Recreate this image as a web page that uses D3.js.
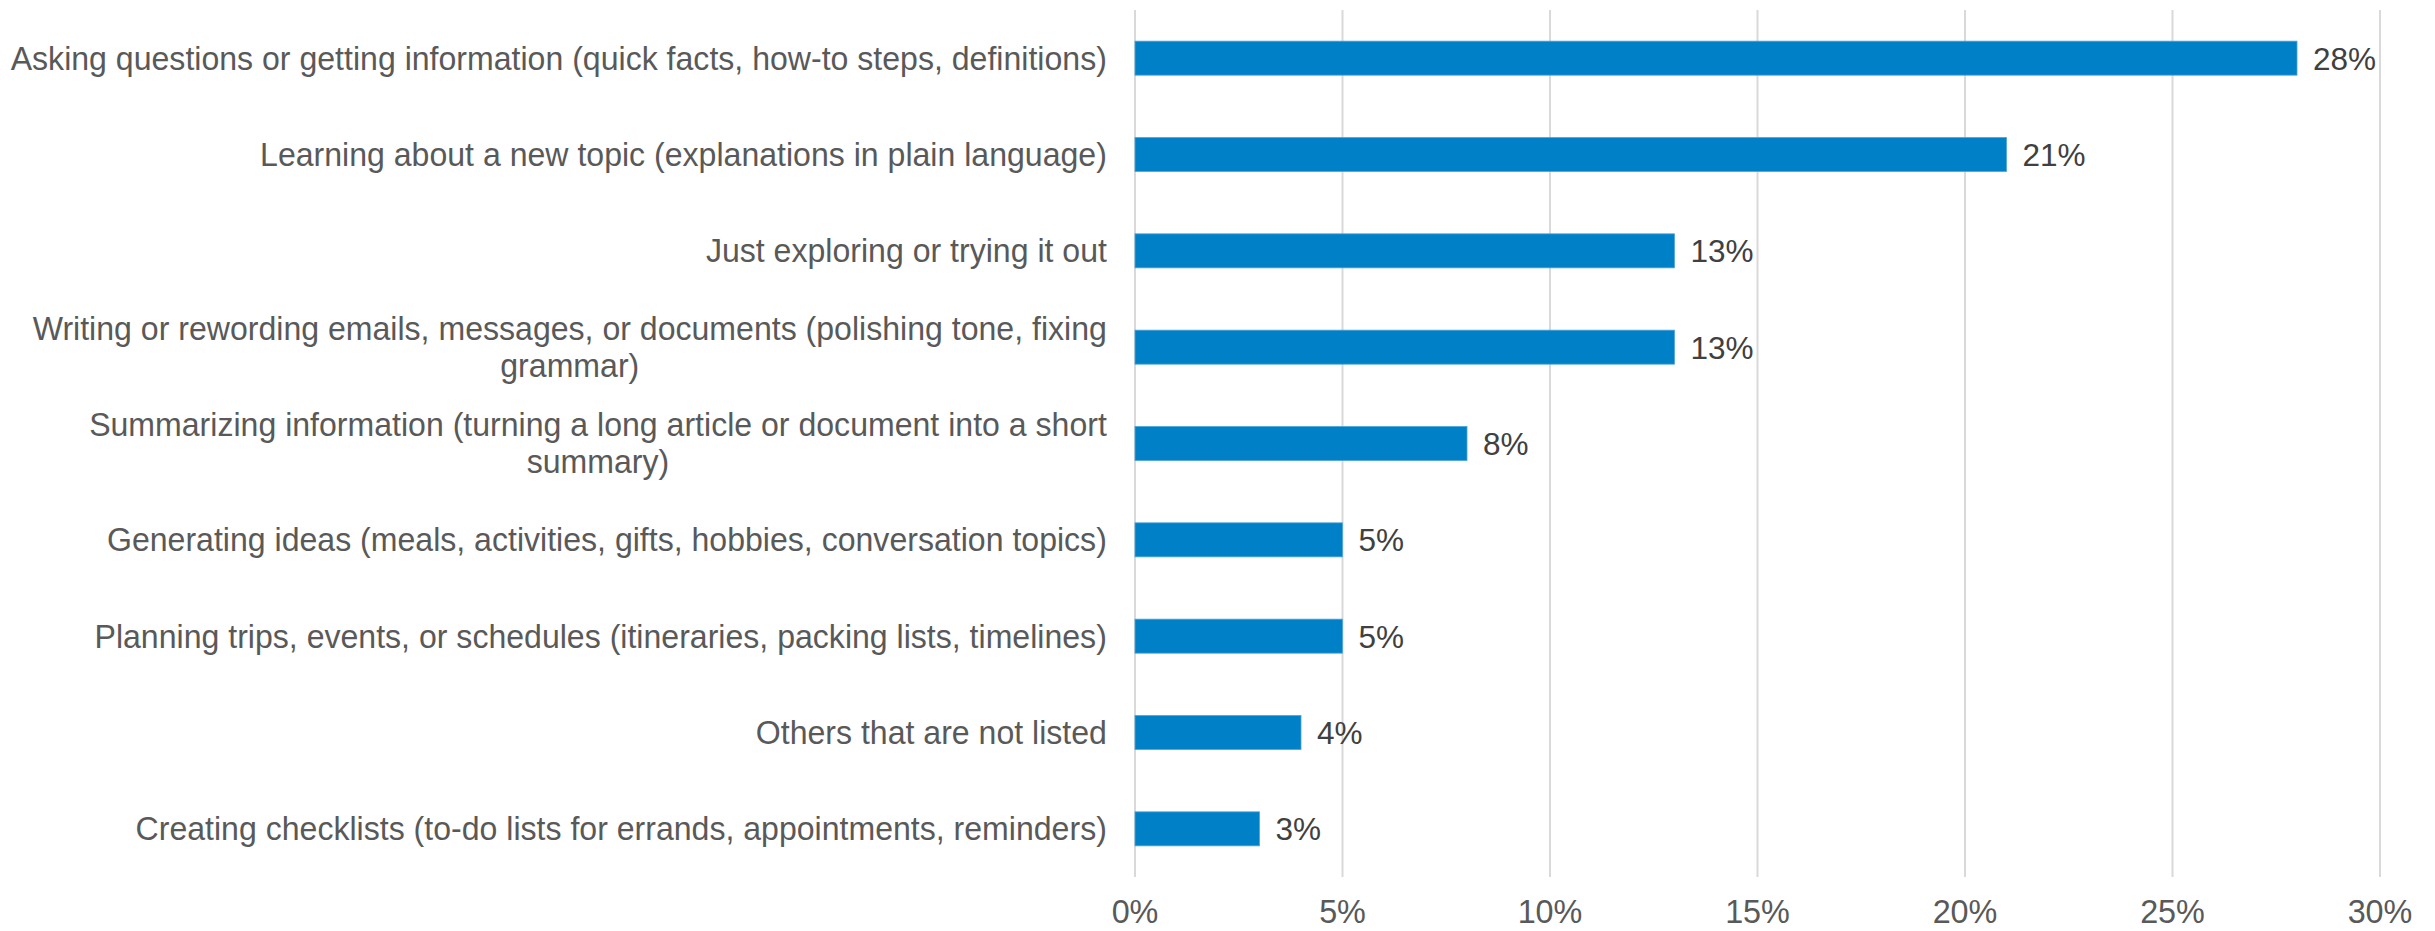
<!DOCTYPE html>
<html>
<head>
<meta charset="utf-8">
<script src="https://cdn.jsdelivr.net/npm/d3@7"></script>
<style>
  html, body { margin: 0; padding: 0; background: #ffffff; }
  svg { display: block; }
  text { font-family: "Liberation Sans", Arial, sans-serif; }
</style>
</head>
<body>
<svg id="chart" width="2435" height="931"></svg>
<script>
// Survey categories, top to bottom
const categories = [
  ["Asking questions or getting information (quick facts, how-to steps, definitions)"],
  ["Learning about a new topic (explanations in plain language)"],
  ["Just exploring or trying it out"],
  ["Writing or rewording emails, messages, or documents (polishing tone, fixing", "grammar)"],
  ["Summarizing information (turning a long article or document into a short", "summary)"],
  ["Generating ideas (meals, activities, gifts, hobbies, conversation topics)"],
  ["Planning trips, events, or schedules (itineraries, packing lists, timelines)"],
  ["Others that are not listed"],
  ["Creating checklists (to-do lists for errands, appointments, reminders)"]
];
// Share of respondents for each category
const shares = [0.28, 0.21, 0.13, 0.13, 0.08, 0.05, 0.05, 0.04, 0.03];
// Axis ticks
const tickValues = [0, 0.05, 0.10, 0.15, 0.20, 0.25, 0.30];

const svg = d3.select("#chart");
const plot = { left: 1135, right: 2380, top: 10, bottom: 877 };

const x = d3.scaleLinear().domain([0, 0.30]).range([plot.left, plot.right]);
const y = d3.scaleBand()
  .domain(d3.range(categories.length))
  .range([plot.top, plot.bottom])
  .paddingInner(0.647)
  .paddingOuter(0.3235);

const fmt = d3.format(".0%");

// Narrow the glyphs horizontally around a given anchor x
const squeeze = (ax, sx) => `translate(${ax},0) scale(${sx},1) translate(${-ax},0)`;

// Vertical gridlines
svg.append("g")
  .selectAll("line")
  .data(tickValues)
  .join("line")
  .attr("x1", d => x(d)).attr("x2", d => x(d))
  .attr("y1", plot.top).attr("y2", plot.bottom)
  .attr("stroke", "#d9d9d9")
  .attr("stroke-width", 2);

// Tick labels under the plot
svg.append("g")
  .selectAll("text")
  .data(tickValues)
  .join("text")
  .attr("x", d => x(d))
  .attr("y", 923)
  .attr("text-anchor", "middle")
  .attr("font-size", 33)
  .attr("fill", "#595959")
  .attr("transform", d => squeeze(x(d), 0.98))
  .text(d => fmt(d));

// Bars
svg.append("g")
  .selectAll("rect")
  .data(shares)
  .join("rect")
  .attr("x", x(0))
  .attr("y", (d, i) => y(i))
  .attr("width", d => x(d) - x(0))
  .attr("height", y.bandwidth())
  .attr("fill", "#0080c6")
  .attr("stroke", "#4ea3d6")
  .attr("stroke-width", 0.8);

// Value labels to the right of each bar
svg.append("g")
  .selectAll("text")
  .data(shares)
  .join("text")
  .attr("x", d => x(d) + 16)
  .attr("y", (d, i) => y(i) + y.bandwidth() / 2 + 11.5)
  .attr("font-size", 31.5)
  .attr("fill", "#404040")
  .text(d => fmt(d));

// Category labels: right-aligned block, wrapped lines centered within it
const labelRight = 1107;
const lineGap = 37;
const labelSx = 0.972;
const labelGroup = svg.append("g");
categories.forEach((lines, i) => {
  const cy = y(i) + y.bandwidth() / 2;
  const g = labelGroup.append("g");
  const texts = lines.map((ln, j) => g.append("text")
    .attr("font-size", 33)
    .attr("fill", "#595959")
    .attr("y", cy + 11.5 + (j - (lines.length - 1) / 2) * lineGap)
    .text(ln));
  const widths = texts.map(t => t.node().getComputedTextLength() * labelSx);
  const maxW = d3.max(widths);
  const cx = labelRight - maxW / 2;
  texts.forEach(t => t.attr("text-anchor", "middle").attr("x", cx)
    .attr("transform", squeeze(cx, labelSx)));
});
</script>
</body>
</html>
